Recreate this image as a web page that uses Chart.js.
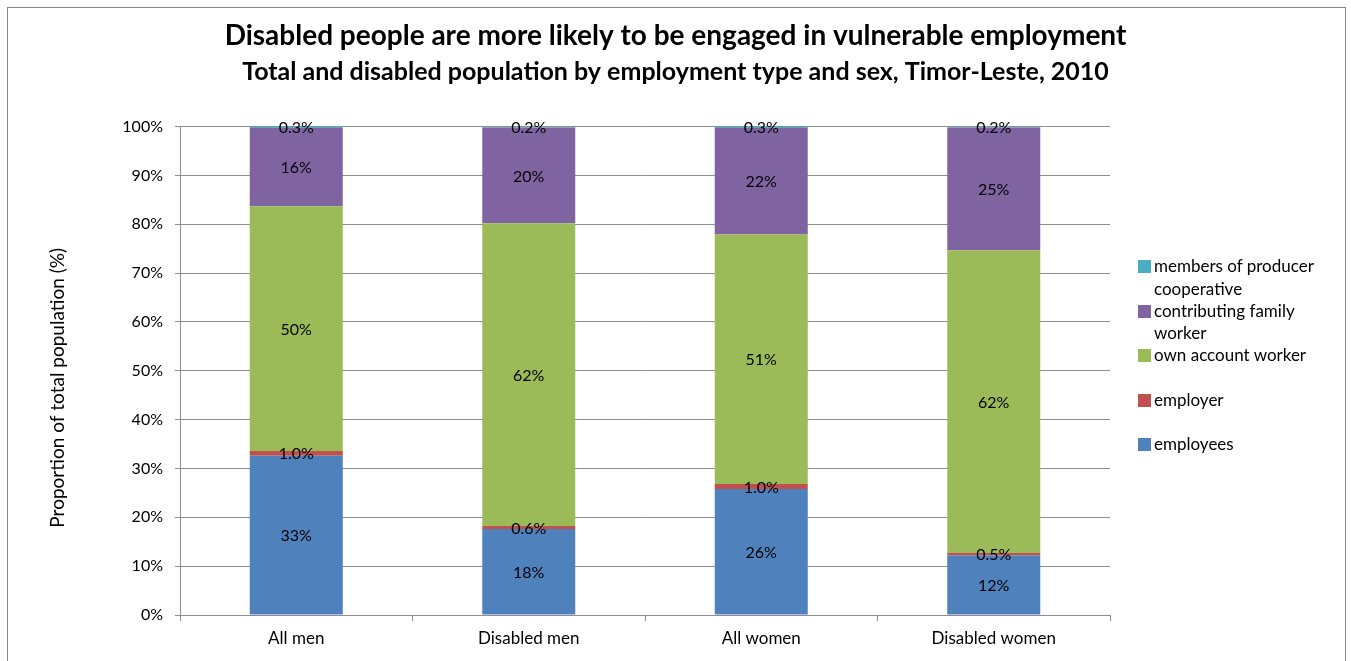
<!DOCTYPE html>
<html>
<head>
<meta charset="utf-8">
<script src="https://cdn.jsdelivr.net/npm/chart.js@4.4.0/dist/chart.umd.min.js"></script>
<style>
  body { margin: 0; background: #fff; }
  #wrap { position: relative; width: 1351px; height: 661px; overflow: hidden; }
  #frame { position: absolute; left: 7px; top: 7px; width: 1337px; height: 700px; border: 1px solid #858585; }
  #legend { position: absolute; left: 1138px; top: 255px; width: 196px; font: 17px Lato, sans-serif; color: #000; }
  #legend .item { position: relative; height: 44.5px; padding-left: 16px; line-height: 22.5px; }
  #legend .box { position: absolute; left: 0; top: 5px; width: 13px; height: 13px; }
</style>
</head>
<body>
<div id="wrap">
  <div id="frame"></div>
  <canvas id="chart" width="1351" height="661"></canvas>
  <div id="legend"></div>
</div>
<script>
const categories = ['All men', 'Disabled men', 'All women', 'Disabled women'];
const seriesNames = ['employees', 'employer', 'own account worker', 'contributing family worker', 'members of producer cooperative'];
const employees = [32.6, 17.6, 25.8, 12.2];
const employer = [1.0, 0.6, 1.0, 0.5];
const ownAccount = [50.1, 62.0, 51.1, 62.0];
const contributing = [16.0, 19.6, 21.8, 25.1];
const cooperative = [0.3, 0.2, 0.3, 0.2];
const colors = ['#4F81BD', '#C0504D', '#9BBB59', '#8064A2', '#4BACC6'];
const yTicks = [0, 10, 20, 30, 40, 50, 60, 70, 80, 90, 100];
const yTitle = 'Proportion of total population (%)';

const FONT = 'Lato, sans-serif';
const values = [employees, employer, ownAccount, contributing, cooperative];

const datasets = seriesNames.map((name, i) => ({
  label: name,
  data: values[i],
  backgroundColor: colors[i],
  borderWidth: 0,
  barPercentage: 0.4,
  categoryPercentage: 1
}));

// values inside each segment
const segmentLabels = {
  id: 'segmentLabels',
  afterDatasetsDraw(chart) {
    const ctx = chart.ctx;
    ctx.save();
    ctx.font = '16px ' + FONT;
    ctx.fillStyle = '#000';
    ctx.textAlign = 'center';
    ctx.textBaseline = 'middle';
    chart.data.datasets.forEach((ds, di) => {
      chart.getDatasetMeta(di).data.forEach((bar, i) => {
        const v = ds.data[i];
        const { x, y, base } = bar.getProps(['x', 'y', 'base'], true);
        const txt = v < 1.05 ? v.toFixed(1) + '%' : Math.round(v) + '%';
        ctx.fillText(txt, x, (y + base) / 2 + 1);
      });
    });
    ctx.restore();
  }
};

// y axis title, centred on plot area + category labels like Excel does
const axisTitle = {
  id: 'axisTitle',
  afterDraw(chart) {
    const ctx = chart.ctx;
    const yScale = chart.scales.y;
    const cy = (chart.chartArea.top + chart.scales.x.bottom) / 2 - 6;
    ctx.save();
    ctx.translate(yScale.left + 58, cy);
    ctx.rotate(-Math.PI / 2);
    ctx.font = '19px ' + FONT;
    ctx.fillStyle = '#000';
    ctx.textAlign = 'center';
    ctx.textBaseline = 'middle';
    ctx.fillText(yTitle, 0, 0);
    ctx.restore();
  }
};

new Chart(document.getElementById('chart'), {
  type: 'bar',
  data: { labels: categories, datasets },
  plugins: [segmentLabels, axisTitle],
  options: {
    responsive: false,
    animation: false,
    layout: { padding: 0 },
    plugins: {
      legend: { display: false },
      tooltip: { enabled: false },
      title: {
        display: true,
        text: 'Disabled people are more likely to be engaged in vulnerable employment',
        color: '#000',
        font: { family: FONT, size: 28, weight: 'bold' },
        padding: { top: 19, bottom: 4 }
      },
      subtitle: {
        display: true,
        text: 'Total and disabled population by employment type and sex, Timor-Leste, 2010',
        color: '#000',
        font: { family: FONT, size: 25, weight: 'bold' },
        padding: { top: 0, bottom: 40 }
      }
    },
    scales: {
      x: {
        stacked: true,
        grid: { offset: true, drawOnChartArea: false, tickLength: 6, color: '#8e8e8e' },
        border: { color: '#8e8e8e' },
        ticks: { color: '#000', font: { family: FONT, size: 17 }, padding: 7 },
        afterFit(scale) { scale.height = 46; }
      },
      y: {
        stacked: true,
        min: 0,
        max: 100,
        afterBuildTicks(scale) { scale.ticks = yTicks.map(v => ({ value: v })); },
        grid: { color: '#8e8e8e', tickLength: 5 },
        border: { color: '#8e8e8e' },
        ticks: {
          color: '#000',
          font: { family: FONT, size: 16 },
          padding: 12,
          callback: v => v + '%'
        },
        afterFit(scale) { scale.width = 180; }
      },
      // empty right axis that keeps room for the legend
      side: {
        position: 'right',
        min: 0,
        max: 100,
        grid: { drawOnChartArea: false, drawTicks: false },
        border: { display: false },
        ticks: { display: false },
        afterFit(scale) { scale.width = 241; }
      }
    }
  }
});

// legend, top entry is the top of the stack
const legend = document.getElementById('legend');
for (let i = seriesNames.length - 1; i >= 0; i--) {
  const item = document.createElement('div');
  item.className = 'item';
  item.innerHTML = '<span class="box" style="background:' + colors[i] + '"></span>' + seriesNames[i];
  legend.appendChild(item);
}
</script>
</body>
</html>
